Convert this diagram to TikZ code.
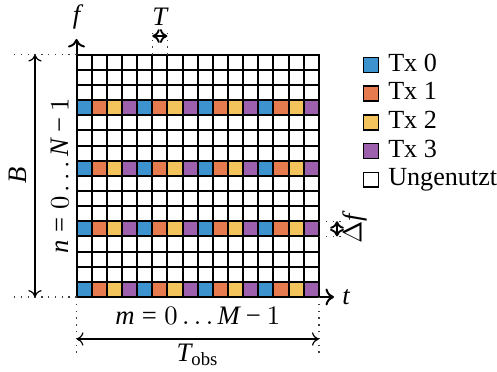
\documentclass[tikz,border=0pt]{standalone}
\usepackage{fontspec}
\setmainfont{Liberation Serif}
\usetikzlibrary{arrows.meta}
\definecolor{col0}{HTML}{3C93CE}
\definecolor{col1}{HTML}{E67B4F}
\definecolor{col2}{HTML}{F2C45B}
\definecolor{col3}{HTML}{9D60AC}
\newcommand{\vi}[1]{\textit{#1}}
\newcommand{\eqs}{\mathrel{\hbox{=}}}
\newcommand{\mns}{\mathbin{\hbox{−}}}
\begin{document}
\begin{tikzpicture}[x=0.375pt,y=-0.375pt,line width=0.75pt,
  axisarrow/.style={-{To[length=3.2pt,width=6.4pt]}},
  dimarrow/.style={line width=0.45pt,{To[length=2.6pt,width=5pt]}-{To[length=2.6pt,width=5pt]}},
  smallarrow/.style={line width=0.7pt,{To[length=2.8pt,width=5.2pt]}-{To[length=2.8pt,width=5.2pt]}},
  guide/.style={dotted,line width=0.55pt,black!75},
  legsq/.style={draw,line width=0.6pt,minimum size=5.6pt,inner sep=0pt},
  legtxt/.style={anchor=mid west,inner sep=0pt,font=\fontsize{9.8pt}{12pt}\selectfont}]
\useasboundingbox (0,0) rectangle (497,371);
% grid corners
\coordinate (O) at (76.5,297);
\coordinate (GT) at (76.5,54.6);
\coordinate (GR) at (318.9,297);
% coloured cells and grid
\begin{scope}[shift={(O)},x=5.68125pt,y=5.68125pt]
  \foreach \r in {0,4,8,12}{
    \foreach \c in {0,...,15}{
      \pgfmathtruncatemacro\k{mod(\c,4)}
      \fill[col\k] (\c,\r) rectangle ++(1,1);
    }
  }
  \foreach \i in {1,...,15}{
    \draw (\i,0) -- (\i,16);
    \draw (0,\i) -- (16,\i);
  }
  \draw[line cap=rect] (0,0) rectangle (16,16);
\end{scope}
% axes
\coordinate (ftip) at (76.5,39);
\coordinate (ttip) at (334,297);
\draw[axisarrow] (O) -- (ftip);
\draw[axisarrow] (O) -- (ttip);
\node (flab) at (76.5,17) {$\vi{f}$};
\node (tlab) at (346,297) {$\vi{t}$};
% B dimension
\coordinate (Bgl) at (14,54.6);
\coordinate (Bgb) at (14,297);
\coordinate (Btop) at (35,54.6);
\coordinate (Bbot) at (35,297);
\draw[guide] (Bgl) -- (GT);
\draw[guide] (Bgb) -- (O);
\draw[dimarrow] (Btop) -- (Bbot);
\node[rotate=90] (Blab) at (18,175.8) {$\vi{B}$};
\node[rotate=90] (nlab) at (60,175.8) {$\vi{n} \eqs 0\ldots \vi{N}\mns 1$};
% T dimension
\coordinate (Ta) at (152.25,54.6);
\coordinate (Tb) at (167.4,54.6);
\coordinate (Ta2) at (152.25,33);
\coordinate (Tb2) at (167.4,33);
\coordinate (Tal) at (152.25,36);
\coordinate (Tbl) at (167.4,36);
\draw[guide] (Ta) -- (Ta2);
\draw[guide] (Tb) -- (Tb2);
\draw[smallarrow] (Tal) -- (Tbl);
\node (Tlab) at (159.8,17) {$\vi{T}$};
% Delta f dimension
\coordinate (Da) at (318.9,221.25);
\coordinate (Db) at (318.9,236.4);
\coordinate (Da2) at (341,221.25);
\coordinate (Db2) at (341,236.4);
\coordinate (Dal) at (337,221.25);
\coordinate (Dbl) at (337,236.4);
\draw[guide] (Da) -- (Da2);
\draw[guide] (Db) -- (Db2);
\draw[smallarrow] (Dal) -- (Dbl);
\node[rotate=90] (Dlab) at (355,228.8) {$\Delta\vi{f}$};
% T_obs dimension
\coordinate (Ol) at (76.5,358);
\coordinate (Or) at (318.9,358);
\coordinate (Oal) at (76.5,339);
\coordinate (Oar) at (318.9,339);
\draw[guide] (O) -- (Ol);
\draw[guide] (GR) -- (Or);
\draw[dimarrow] (Oal) -- (Oar);
\node (mlab) at (197.7,316) {$\vi{m} \eqs 0\ldots \vi{M}\mns 1$};
\node (Tobs) at (197.7,355) {$\vi{T}_{\mathrm{obs}}$};
% legend
\node[legsq,fill=col0] (s0) at (371,65) {};
\node[legsq,fill=col1] (s1) at (371,93.7) {};
\node[legsq,fill=col2] (s2) at (371,122.4) {};
\node[legsq,fill=col3] (s3) at (371,151.1) {};
\node[legsq,fill=white] (s4) at (371,179.8) {};
\node[legtxt] (t0) at ([xshift=3pt]s0.east) {Tx 0};
\node[legtxt] (t1) at ([xshift=3pt]s1.east) {Tx 1};
\node[legtxt] (t2) at ([xshift=3pt]s2.east) {Tx 2};
\node[legtxt] (t3) at ([xshift=3pt]s3.east) {Tx 3};
\node[legtxt] (t4) at ([xshift=3pt]s4.east) {Ungenutzt};
\end{tikzpicture}
\end{document}
